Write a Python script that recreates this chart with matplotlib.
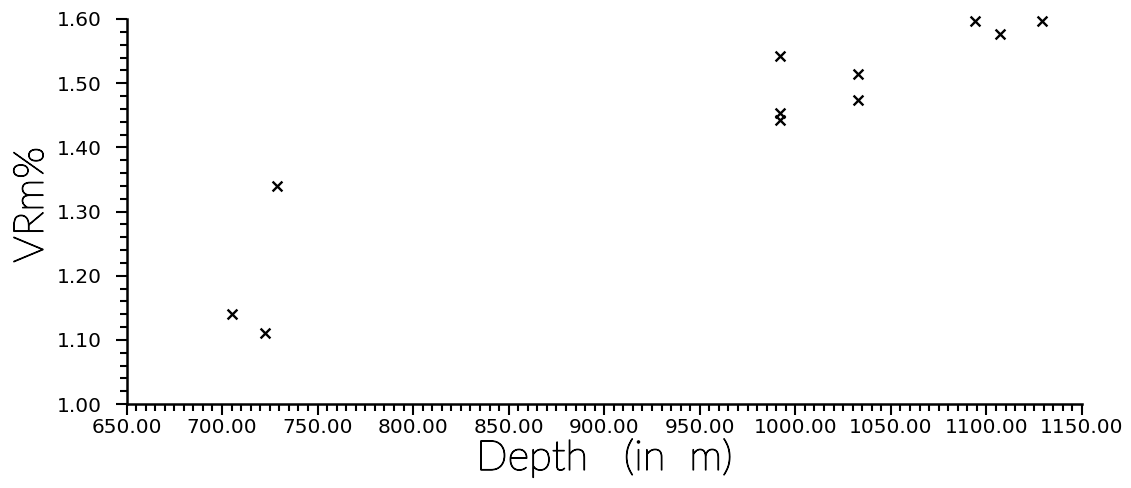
import matplotlib
matplotlib.use('Agg')
import matplotlib.pyplot as plt
import matplotlib.patheffects as pe
from matplotlib.ticker import MultipleLocator, FormatStrFormatter

# Vitrinite reflectance vs depth
depth = [705, 722.5, 729, 992, 992, 992, 1033, 1033, 1094, 1107, 1129]
vrm = [1.14, 1.11, 1.34, 1.543, 1.453, 1.443, 1.514, 1.474, 1.597, 1.577, 1.597]

x_ticks = [650, 700, 750, 800, 850, 900, 950, 1000, 1050, 1100, 1150]
y_ticks = [1.00, 1.10, 1.20, 1.30, 1.40, 1.50, 1.60]

fig = plt.figure(figsize=(11.31, 4.88), dpi=100)
ax = fig.add_axes([126.5 / 1131, 1 - 404 / 488, (1082 - 126.5) / 1131, (404 - 19) / 488])

ax.scatter(depth, vrm, marker='x', s=50, color='black', linewidths=1.7, clip_on=False)

ax.set_xlim(650, 1150)
ax.set_ylim(1.00, 1.60)
ax.set_xticks(x_ticks)
ax.set_yticks(y_ticks)
ax.xaxis.set_minor_locator(MultipleLocator(5))
ax.yaxis.set_minor_locator(MultipleLocator(0.02))
ax.xaxis.set_major_formatter(FormatStrFormatter('%.2f'))
ax.yaxis.set_major_formatter(FormatStrFormatter('%.2f'))

for side in ['top', 'right']:
    ax.spines[side].set_visible(False)
for side in ['left', 'bottom']:
    ax.spines[side].set_linewidth(1.8)

ax.tick_params(axis='both', which='major', direction='out', length=8, width=1.5)
ax.tick_params(axis='both', which='minor', direction='out', length=5, width=1.5)
ax.tick_params(axis='x', which='major', pad=2)
ax.tick_params(axis='y', which='major', pad=10)
for lbl in ax.get_xticklabels() + ax.get_yticklabels():
    lbl.set_fontfamily('DejaVu Sans')
    lbl.set_fontsize(14.5)

thicken = [pe.withStroke(linewidth=0.9, foreground='black')]
ax.set_xlabel('Depth   (in  m)', fontsize=30, family='Lato', fontweight='light',
              color='black', labelpad=1, path_effects=thicken)
ax.set_ylabel('VRm%', fontsize=30, family='Lato', fontweight='light',
              color='black', path_effects=thicken)
ax.yaxis.set_label_coords(-0.079, 0.517)

fig.savefig('out.png', dpi=100)
